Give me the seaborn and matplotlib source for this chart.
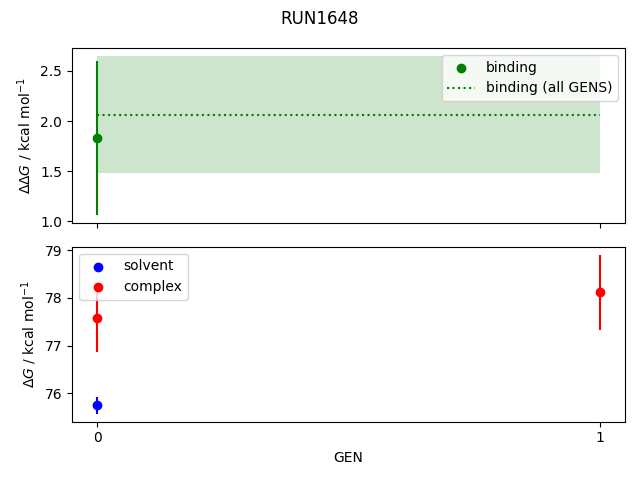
import numpy as np
import pandas as pd
import matplotlib
matplotlib.use("Agg")
import matplotlib.pyplot as plt
import seaborn as sns

# valeurs
gens = [0, 1]
binding_gen = [0]
binding_dg = [1.83]
binding_err = [0.77]
binding_all = 2.065
binding_all_err = 0.585

solvent_gen = [0]
solvent_dg = [75.75]
solvent_err = [0.18]
complex_gen = [0, 1]
complex_dg = [77.58, 78.12]
complex_err = [0.72, 0.79]

df_bind = pd.DataFrame({"GEN": binding_gen, "dG": binding_dg})
df_solv = pd.DataFrame({"GEN": solvent_gen, "dG": solvent_dg})
df_cplx = pd.DataFrame({"GEN": complex_gen, "dG": complex_dg})

fig, (ax1, ax2) = plt.subplots(2, 1, sharex=True, figsize=(6.4, 4.8), dpi=100)
fig.suptitle("RUN1648")

# binding
ax1.errorbar(binding_gen, binding_dg, yerr=binding_err, fmt="none", ecolor="green")
sns.scatterplot(data=df_bind, x="GEN", y="dG", color="green", s=36, edgecolor="green",
                linewidth=1, label="binding", ax=ax1)
ax1.plot([gens[0], gens[-1]], [binding_all, binding_all], ":", color="green",
         label="binding (all GENS)")
ax1.fill_between([gens[0], gens[-1]], binding_all - binding_all_err,
                 binding_all + binding_all_err, color="green", alpha=0.2, linewidth=0)
ax1.set_xlabel("")
ax1.set_ylabel(r"$\Delta\Delta G$ / kcal mol$^{-1}$")
ax1.legend(loc="upper right")

# solvent / complex
ax2.errorbar(solvent_gen, solvent_dg, yerr=solvent_err, fmt="none", ecolor="blue")
ax2.errorbar(complex_gen, complex_dg, yerr=complex_err, fmt="none", ecolor="red")
sns.scatterplot(data=df_solv, x="GEN", y="dG", color="blue", s=36, edgecolor="blue",
                linewidth=1, label="solvent", ax=ax2)
sns.scatterplot(data=df_cplx, x="GEN", y="dG", color="red", s=36, edgecolor="red",
                linewidth=1, label="complex", ax=ax2)
ax2.set_ylabel(r"$\Delta G$ / kcal mol$^{-1}$")
ax2.set_xlabel("GEN")
ax2.set_xticks(gens)
ax2.legend(loc="upper left")

plt.tight_layout()
plt.savefig("out.png")
